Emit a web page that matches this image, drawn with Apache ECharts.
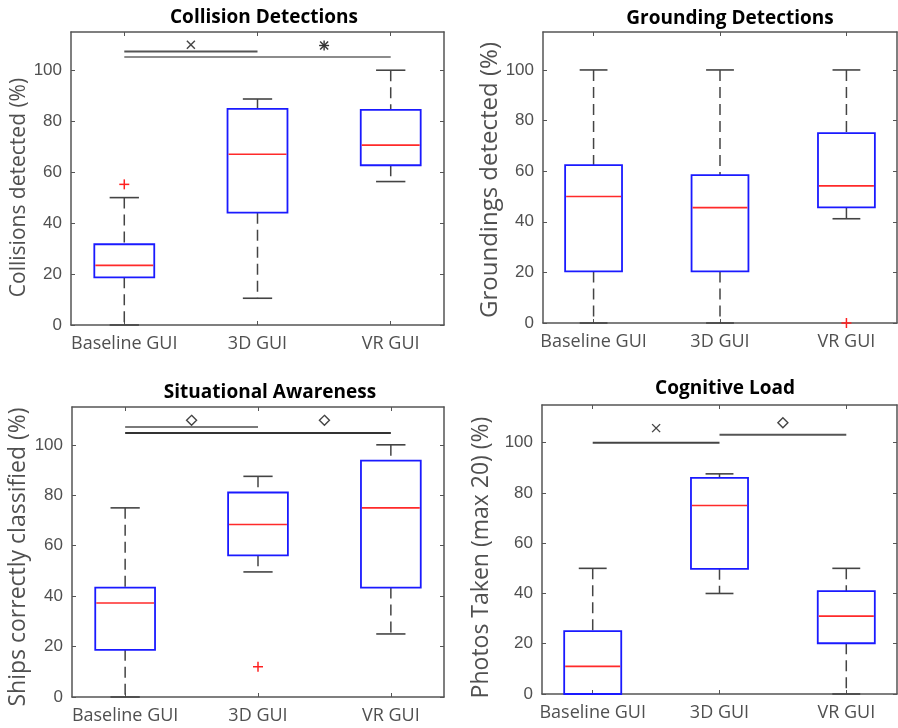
<!DOCTYPE html>
<html>
<head>
<meta charset="utf-8">
<title>Boxplots</title>
<script src="https://cdn.jsdelivr.net/npm/echarts@6/dist/echarts.min.js"></script>
<style>
  html, body { margin: 0; padding: 0; background: #fff; }
  #main { width: 898px; height: 728px; }
</style>
</head>
<body>
<div id="main"></div>
<script>
// categories and ticks
const categories = ['Baseline GUI', '3D GUI', 'VR GUI'];
const yTicks = [0, 20, 40, 60, 80, 100];
const catTicks = [1, 2, 3];

// box values per category: [lower whisker, q1, median, q3, upper whisker]
const collisionBoxes = [[0, 18.7, 23.4, 31.7, 50], [10.5, 44.1, 67, 84.8, 88.7], [56.3, 62.7, 70.6, 84.4, 100]];
const groundingBoxes = [[0, 20.4, 50, 62.4, 100], [0, 20.4, 45.6, 58.4, 100], [41.2, 45.7, 54.2, 75, 100]];
const awarenessBoxes = [[0, 18.7, 37.3, 43.4, 75], [49.6, 56.2, 68.4, 81.1, 87.5], [25, 43.4, 75, 93.7, 100]];
const loadBoxes = [[0, 0, 11, 25, 50], [40, 49.8, 75, 86, 87.6], [0, 20.2, 31, 40.9, 50]];

// outliers: [category position, value]
const collisionOutliers = [[1, 55.2]];
const groundingOutliers = [[3, 0]];
const awarenessOutliers = [[2, 12]];
const loadOutliers = [];

// significance bars: [from, to, y]
const collisionBars = [[1, 2, 107.3], [1, 3, 105.2]];
const awarenessBars = [[1, 2, 107.1], [1, 3, 104.7]];
const loadBars = [[1, 2, 100], [2, 3, 103.2]];

// significance markers: [x, y, kind]  kind 1 = cross, 2 = asterisk, 3 = diamond
const collisionMarks = [[1.5, 110, 1], [2.5, 109.7, 2]];
const awarenessMarks = [[1.5, 109.7, 3], [2.5, 109.7, 3]];
const loadMarks = [[1.5, 105.8, 1], [2.5, 107.9, 3]];

const panels = [
  { title: 'Collision Detections', titleX: 259, titleY: 3, name: 'Collisions detected (%)', nameSize: 21, nameGap: 41, nameShift: 18, tickSize: 17,
    grid: { left: 71, top: 32, width: 373, height: 293 }, boxes: collisionBoxes, outliers: collisionOutliers,
    bars: collisionBars, marks: collisionMarks, barColors: ['#555', '#8c8c8c'] },
  { title: 'Grounding Detections', titleX: 725, titleY: 4, name: 'Groundings detected (%)', nameSize: 24, nameGap: 41, nameShift: 5, tickSize: 17,
    grid: { left: 543, top: 32, width: 354, height: 291 }, boxes: groundingBoxes, outliers: groundingOutliers,
    bars: [], marks: [], barColors: [] },
  { title: 'Situational Awareness', titleX: 265, titleY: 378, name: 'Ships correctly classified (%)', nameSize: 23, nameGap: 42, nameShift: 10, tickSize: 17,
    grid: { left: 72, top: 407, width: 372, height: 290 }, boxes: awarenessBoxes, outliers: awarenessOutliers,
    bars: awarenessBars, marks: awarenessMarks, barColors: ['#7a7a7a', '#333'] },
  { title: 'Cognitive Load', titleX: 720, titleY: 374, name: 'Photos Taken (max 20) (%)', nameSize: 23, nameGap: 49, nameShift: 16, tickSize: 17,
    grid: { left: 542, top: 405, width: 355, height: 289 }, boxes: loadBoxes, outliers: loadOutliers,
    bars: loadBars, marks: loadMarks, barColors: ['#444', '#555'] }
];

const frameColor = '#555';
const textColor = '#505050';

function renderBox(params, api) {
  const x = api.value(0);
  const lo = api.value(1), q1 = api.value(2), med = api.value(3), q3 = api.value(4), hi = api.value(5);
  const hb = api.size([0.45, 0])[0] / 2;
  const hc = api.size([0.22, 0])[0] / 2;
  const c = v => api.coord([x, v]);
  const pLo = c(lo), pQ1 = c(q1), pMed = c(med), pQ3 = c(q3), pHi = c(hi);
  const cx = pMed[0];
  const whisker = { stroke: '#444', lineWidth: 1.5, lineDash: [11, 6] };
  const cap = { stroke: '#444', lineWidth: 1.6 };
  const children = [];
  if (hi > q3) children.push({ type: 'line', shape: { x1: cx, y1: pHi[1], x2: cx, y2: pQ3[1] }, style: whisker });
  if (lo < q1) children.push({ type: 'line', shape: { x1: cx, y1: pQ1[1], x2: cx, y2: pLo[1] }, style: whisker });
  children.push({ type: 'line', shape: { x1: cx - hc, y1: pHi[1], x2: cx + hc, y2: pHi[1] }, style: cap });
  children.push({ type: 'line', shape: { x1: cx - hc, y1: pLo[1], x2: cx + hc, y2: pLo[1] }, style: cap });
  children.push({ type: 'rect', shape: { x: cx - hb, y: pQ3[1], width: 2 * hb, height: pQ1[1] - pQ3[1] },
    style: { fill: 'none', stroke: '#1a1aff', lineWidth: 1.8 } });
  children.push({ type: 'line', shape: { x1: cx - hb + 1, y1: pMed[1], x2: cx + hb - 1, y2: pMed[1] },
    style: { stroke: '#ff2a2a', lineWidth: 1.6 } });
  return { type: 'group', children: children };
}

function renderMark(params, api) {
  const p = api.coord([api.value(0), api.value(1)]);
  const kind = api.value(2);
  const x = p[0], y = p[1];
  if (kind === 0) {
    const s = { stroke: '#ff2020', lineWidth: 1.5 };
    return { type: 'group', children: [
      { type: 'line', shape: { x1: x - 5, y1: y, x2: x + 5, y2: y }, style: s },
      { type: 'line', shape: { x1: x, y1: y - 5, x2: x, y2: y + 5 }, style: s }
    ] };
  }
  if (kind === 1) {
    const s = { stroke: '#444', lineWidth: 1.4 };
    return { type: 'group', children: [
      { type: 'line', shape: { x1: x - 4, y1: y - 4, x2: x + 4, y2: y + 4 }, style: s },
      { type: 'line', shape: { x1: x - 4, y1: y + 4, x2: x + 4, y2: y - 4 }, style: s }
    ] };
  }
  if (kind === 2) {
    const s = { stroke: '#333', lineWidth: 1.4 };
    return { type: 'group', children: [
      { type: 'line', shape: { x1: x - 5, y1: y, x2: x + 5, y2: y }, style: s },
      { type: 'line', shape: { x1: x, y1: y - 5, x2: x, y2: y + 5 }, style: s },
      { type: 'line', shape: { x1: x - 4, y1: y - 4, x2: x + 4, y2: y + 4 }, style: s },
      { type: 'line', shape: { x1: x - 4, y1: y + 4, x2: x + 4, y2: y - 4 }, style: s }
    ] };
  }
  return { type: 'polygon', shape: { points: [[x, y - 5], [x + 5, y], [x, y + 5], [x - 5, y]] },
    style: { fill: '#fff', stroke: '#444', lineWidth: 1.4 } };
}

const grids = [], xAxes = [], yAxes = [], titles = [], series = [];

panels.forEach((pn, i) => {
  grids.push(Object.assign({ containLabel: false }, pn.grid));
  titles.push({ text: pn.title, left: pn.titleX, top: pn.titleY, textAlign: 'center',
    textStyle: { fontFamily: 'Open Sans', fontWeight: 'bold', fontSize: 19, color: '#000' } });
  const lineStyle = { color: frameColor, width: 1.5 };
  const tickStyle = { color: frameColor, width: 1 };
  // bottom and top x axes
  [false, true].forEach(top => {
    xAxes.push({
      gridIndex: i, type: 'value', min: 0.6, max: 3.4, position: top ? 'top' : 'bottom',
      axisLine: { show: true, onZero: false, lineStyle },
      axisTick: { show: true, inside: true, length: 4, customValues: catTicks, lineStyle: tickStyle },
      axisLabel: top ? { show: false } : {
        customValues: catTicks, margin: 10, color: textColor, fontFamily: 'Open Sans', fontSize: 18,
        formatter: v => categories[Math.round(v) - 1]
      },
      splitLine: { show: false }
    });
  });
  // left and right y axes
  [false, true].forEach(right => {
    yAxes.push({
      gridIndex: i, type: 'value', min: 0, max: 115, position: right ? 'right' : 'left',
      axisLine: { show: true, onZero: false, lineStyle },
      axisTick: { show: true, inside: true, length: 4, customValues: yTicks, lineStyle: tickStyle },
      axisLabel: right ? { show: false } : {
        customValues: yTicks, margin: 9, color: textColor, fontFamily: 'Liberation Sans', fontSize: pn.tickSize
      },
      splitLine: { show: false },
      name: right ? '' : pn.name, nameLocation: 'middle', nameGap: pn.nameGap,
      nameTextStyle: { fontFamily: 'Open Sans', fontSize: pn.nameSize, color: textColor,
        padding: [0, pn.nameShift, 0, 0] }
    });
  });
  const xi = 2 * i, yi = 2 * i;
  series.push({ type: 'custom', xAxisIndex: xi, yAxisIndex: yi, z: 3, clip: false,
    data: pn.boxes.map((b, k) => [k + 1].concat(b)), renderItem: renderBox });
  pn.bars.forEach((b, k) => {
    series.push({ type: 'line', xAxisIndex: xi, yAxisIndex: yi, z: 4, symbol: 'none', silent: true,
      data: [[b[0], b[2]], [b[1], b[2]]],
      lineStyle: { color: pn.barColors[k], width: 2 } });
  });
  const marks = pn.outliers.map(o => [o[0], o[1], 0]).concat(pn.marks);
  if (marks.length) {
    series.push({ type: 'custom', xAxisIndex: xi, yAxisIndex: yi, z: 5, clip: false,
      data: marks, renderItem: renderMark });
  }
});

const chart = echarts.init(document.getElementById('main'), null, { renderer: 'canvas' });
chart.setOption({
  animation: false,
  backgroundColor: '#fff',
  title: titles,
  grid: grids,
  xAxis: xAxes,
  yAxis: yAxes,
  series: series
});
</script>
</body>
</html>
